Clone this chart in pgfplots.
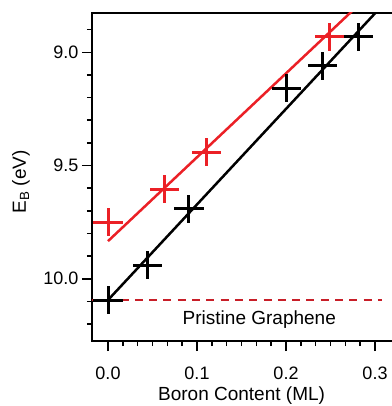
\documentclass[border=0pt]{standalone}
\usepackage{fontspec}
\setmainfont{Liberation Sans}
\usepackage{pgfplots}
\pgfplotsset{compat=1.18}
\definecolor{myred}{RGB}{235,32,38}
\definecolor{dashred}{RGB}{200,30,40}
\begin{document}
\begin{tikzpicture}
\begin{axis}[
  at={(0,0)}, anchor=south west,
  scale only axis, width=305.25pt, height=328pt,
  xmin=-0.01798, xmax=0.325,
  ymin=8.8264, ymax=10.275, y dir=reverse,
  axis line style={line width=1.8pt},
  tick style={line width=1.6pt, black},
  major tick length=10pt, minor tick length=5pt,
  tick align=outside, tick pos=left,
  xtick={0,0.1,0.2,0.3}, xticklabels={0.0,0.1,0.2,0.3},
  minor xtick={0.016667,0.033333,0.05,0.066667,0.083333,0.116667,0.133333,0.15,0.166667,0.183333,0.216667,0.233333,0.25,0.266667,0.283333},
  ytick={9.0,9.5,10.0}, yticklabels={9.0,9.5,10.0},
  minor ytick={8.9,9.1,9.2,9.3,9.4,9.6,9.7,9.8,9.9,10.1,10.2},
  ticklabel style={font=\fontsize{18}{21}\selectfont},
  xticklabel style={yshift=-12pt},
  label style={font=\fontsize{19}{22}\selectfont},
  xlabel={Boron Content (ML)},
  ylabel={E\textsubscript{B} (eV)},
  xlabel style={at={([yshift=-55pt]axis description cs:0.49,0)}, anchor=center},
  ylabel style={at={([xshift=-71pt]axis description cs:0,0.485)}, anchor=center},
]
\addplot[dashred, line width=2.8pt, dash pattern=on 8pt off 6.3pt] coordinates {(-0.018,10.094) (0.3075,10.094)};
\addplot[black, line width=2.5pt] coordinates {(0,10.094) (0.32,8.7435)};
\addplot[myred, line width=2.5pt] coordinates {(0,9.834) (0.32,8.6484)};
\addplot[draw=none, mark=none,
  error bars/.cd, x dir=both, x explicit, y dir=both, y explicit,
  error mark=none, error bar style={line width=3pt, myred}]
  table[x=x, y=y, x error=ex, y error=ey] {
x y ex ey
0 9.751 0.0163 0.062
0.063 9.604 0.0163 0.062
0.1109 9.4417 0.0163 0.062
0.2494 8.931 0.0163 0.062
};
\addplot[draw=none, mark=none,
  error bars/.cd, x dir=both, x explicit, y dir=both, y explicit,
  error mark=none, error bar style={line width=3pt, black}]
  table[x=x, y=y, x error=ex, y error=ey] {
x y ex ey
0 10.094 0.0163 0.062
0.0446 9.940 0.0163 0.062
0.091 9.690 0.0163 0.062
0.2007 9.159 0.0163 0.062
0.2408 9.059 0.0163 0.062
0.2812 8.931 0.0163 0.062
};
\node[anchor=base, font=\fontsize{19}{22}\selectfont] at (axis cs:0.17,10.2) {Pristine Graphene};
\end{axis}
\pgfresetboundingbox
\path[use as bounding box] (-92pt,-65pt) rectangle (299pt,341pt);
\end{tikzpicture}
\end{document}
